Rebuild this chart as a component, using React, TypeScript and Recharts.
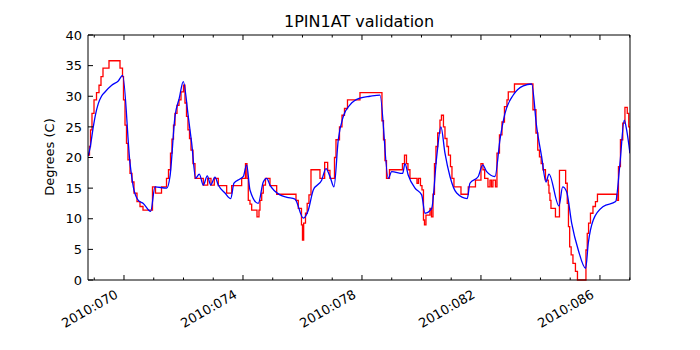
import React from "react";
import { LineChart, Line, XAxis, YAxis } from "recharts";

// day-of-year (2010) for each sample, and the temperature in degrees C
const telemTime = [
	68.79, 68.84, 68.874, 68.924, 68.992, 69.076, 69.16, 69.227, 69.294, 69.496,
	69.866, 69.95, 69.983, 70.034, 70.084, 70.134, 70.202, 70.269, 70.336, 70.437,
	70.538, 70.639, 70.958, 71.059, 71.261, 71.429, 71.496, 71.563, 71.613, 71.664,
	71.714, 71.782, 71.849, 71.916, 72.0, 72.05, 72.101, 72.151, 72.202, 72.252,
	72.319, 72.387, 72.666, 72.813, 72.924, 73.035, 73.17, 73.452, 73.62, 73.956,
	74.084, 74.134, 74.178, 74.235, 74.292, 74.471, 74.538, 74.571, 74.629, 74.682,
	74.756, 74.908, 75.133, 75.782, 75.859, 75.966, 76.0, 76.04, 76.101, 76.158,
	76.218, 76.286, 76.588, 76.746, 76.847, 76.924, 77.076, 77.126, 77.244, 77.328,
	77.412, 77.513, 77.933, 78.672, 78.723, 78.773, 78.824, 78.924, 79.361, 79.429,
	79.496, 79.546, 79.613, 79.849, 79.899, 79.966, 80.017, 80.067, 80.101, 80.151,
	80.286, 80.336, 80.387, 80.437, 80.487, 80.545, 80.622, 80.672, 80.739, 80.79,
	80.857, 80.908, 80.975, 81.025, 81.092, 81.328, 81.573, 81.815, 82.0, 82.067,
	82.124, 82.235, 82.303, 82.353, 82.403, 82.487, 82.538, 82.622, 82.706, 82.79,
	82.874, 82.918, 83.126, 83.748, 83.849, 83.909, 83.966, 84.024, 84.084, 84.168,
	84.262, 84.286, 84.319, 84.353, 84.504, 84.639, 84.847, 84.901, 84.941, 84.982,
	85.032, 85.092, 85.176, 85.244, 85.529, 85.573, 85.617, 85.681, 85.765, 85.849,
	85.916, 86.571, 86.622, 86.689, 86.766, 86.84, 86.918, 86.968, 87.008,
];
const telemTemp = [
	20.4, 21.8, 24.5, 27.2, 29.4, 30.6, 31.8, 33.2, 34.6, 35.8,
	34.6, 33.2, 29.4, 25.3, 22.3, 19.6, 17.4, 16.0, 14.2, 12.8,
	12.0, 11.4, 15.2, 14.2, 15.2, 16.6, 18.0, 20.7, 23.0, 25.3,
	27.2, 28.5, 29.4, 30.7, 31.8, 28.9, 26.7, 24.5, 23.1, 21.2,
	19.0, 16.6, 15.5, 16.6, 15.5, 16.6, 15.4, 14.2, 15.4, 16.6,
	19.0, 16.6, 13.0, 12.4, 11.4, 10.3, 11.4, 13.0, 14.2, 15.5,
	16.6, 15.4, 14.0, 13.0, 11.7, 9.0, 6.5, 9.3, 10.9, 12.5,
	13.9, 18.0, 16.6, 19.2, 17.9, 16.6, 20.0, 22.9, 25.0, 26.9,
	28.0, 29.4, 30.6, 26.0, 22.9, 19.5, 16.6, 18.0, 19.0, 20.4,
	19.0, 18.0, 16.6, 15.8, 16.6, 15.4, 14.7, 9.8, 9.0, 10.6,
	11.7, 10.3, 14.0, 19.0, 21.8, 24.0, 26.1, 26.9, 25.0, 23.1,
	21.8, 20.4, 18.5, 16.6, 15.2, 14.0, 15.2, 16.3, 19.0, 18.0,
	16.6, 15.2, 16.3, 15.2, 16.3, 15.2, 20.7, 23.7, 25.8, 28.3,
	29.4, 30.7, 32.0, 27.8, 24.0, 21.2, 20.1, 19.0, 18.0, 16.3,
	15.5, 14.2, 13.0, 11.7, 10.3, 17.9, 15.8, 12.5, 8.7, 5.4,
	4.1, 2.7, 1.4, 0.0, 4.9, 7.6, 9.3, 10.9, 12.0, 12.8,
	14.0, 13.0, 18.5, 22.9, 25.6, 28.2, 27.2, 25.0, 20.7,
];

const modelTime = [
	68.79, 68.857, 68.968, 69.042, 69.136, 69.244, 69.361, 69.587, 69.808, 69.956,
	70.202, 70.313, 70.481, 70.649, 70.897, 71.042, 71.435, 71.546, 71.714, 71.859,
	71.993, 72.161, 72.276, 72.41, 72.531, 72.666, 72.8, 72.914, 73.059, 73.17,
	73.395, 73.587, 73.697, 73.899, 74.01, 74.124, 74.235, 74.514, 74.682, 74.797,
	74.908, 75.244, 75.479, 75.748, 76.027, 76.195, 76.363, 76.645, 76.79, 76.924,
	77.059, 77.203, 77.371, 77.597, 77.933, 78.269, 78.605, 78.884, 78.998, 79.368,
	79.445, 79.556, 79.782, 80.007, 80.118, 80.343, 80.511, 80.655, 80.79, 80.958,
	81.183, 81.539, 81.63, 81.909, 82.057, 82.192, 82.471, 82.639, 82.807, 83.086,
	83.422, 83.704, 83.872, 84.04, 84.185, 84.286, 84.622, 84.746, 84.88, 85.049,
	85.271, 85.519, 85.607, 85.775, 86.111, 86.528, 86.672, 86.817, 86.897, 87.008,
];
const modelTemp = [
	20.2, 21.5, 25.0, 27.0, 28.8, 30.0, 30.7, 31.8, 32.5, 33.4,
	19.1, 15.2, 13.0, 12.5, 11.2, 15.2, 15.0, 16.9, 26.7, 29.7,
	32.4, 26.7, 22.3, 16.6, 17.3, 15.5, 17.0, 15.5, 16.8, 15.5,
	14.2, 13.3, 15.8, 16.5, 16.9, 18.8, 14.7, 12.5, 16.0, 16.6,
	15.5, 13.9, 13.5, 13.2, 10.1, 11.4, 14.7, 16.3, 18.2, 16.9,
	15.2, 22.9, 26.7, 28.6, 29.7, 30.0, 30.2, 16.6, 17.7, 17.4,
	19.0, 17.1, 15.0, 13.9, 10.9, 11.7, 20.1, 25.0, 20.7, 16.9,
	14.2, 13.3, 15.8, 16.9, 18.8, 17.7, 16.9, 22.9, 27.2, 30.2,
	31.7, 32.0, 25.0, 20.1, 16.0, 17.3, 12.1, 15.2, 14.4, 9.3,
	4.9, 1.9, 6.0, 9.8, 12.0, 12.8, 19.0, 26.1, 24.5, 20.7,
];

const yTicks = [0, 5, 10, 15, 20, 25, 30, 35, 40];
const dayTicks = [69, 70, 71, 72, 73, 74, 75, 76, 77, 78, 79, 80, 81, 82, 83, 84, 85, 86, 87];
const labelledDays = [70, 74, 78, 82, 86];

const FONT = "'DejaVu Sans', sans-serif";

const telemData = telemTime.map((t, i) => ({ t, v: telemTemp[i] }));
const modelData = modelTime.map((t, i) => ({ t, v: modelTemp[i] }));

const dayLabel = (d: number) => `2010:${String(d).padStart(3, "0")}`;

const BottomTick = ({ x, y, payload }: any) => {
	const major = labelledDays.includes(payload.value);
	return (
		<g>
			<line x1={x} y1={y} x2={x} y2={y - (major ? 5 : 2.5)} stroke="#000" strokeWidth={1} />
			{major && (
				<text
					x={x - 5}
					y={y + 17}
					transform={`rotate(-30 ${x - 5} ${y + 17})`}
					textAnchor="end"
					fontSize={13}
					fontFamily={FONT}
					fill="#000"
				>
					{dayLabel(payload.value)}
				</text>
			)}
		</g>
	);
};

const TopTick = ({ x, y, payload }: any) => {
	const major = labelledDays.includes(payload.value);
	return <line x1={x} y1={y} x2={x} y2={y + (major ? 5 : 2.5)} stroke="#000" strokeWidth={1} />;
};

const LeftTick = ({ x, y, payload }: any) => (
	<g>
		<line x1={x} y1={y} x2={x + 5} y2={y} stroke="#000" strokeWidth={1} />
		<text x={x - 6} y={y} dy="0.36em" textAnchor="end" fontSize={13} fontFamily={FONT} fill="#000">
			{payload.value}
		</text>
	</g>
);

const RightTick = ({ x, y }: any) => (
	<line x1={x} y1={y} x2={x - 5} y2={y} stroke="#000" strokeWidth={1} />
);

export default function App() {
	return (
		<div style={{ position: "relative", width: 684, height: 342, fontFamily: FONT }}>
			<div
				style={{
					position: "absolute",
					left: 80,
					width: 542,
					top: 4,
					textAlign: "center",
					fontSize: 16,
					color: "#000",
				}}
			>
				1PIN1AT validation
			</div>
			<div
				style={{
					position: "absolute",
					left: 42 - 60,
					top: 149 - 8,
					width: 120,
					textAlign: "center",
					fontSize: 13,
					lineHeight: "16px",
					transform: "rotate(-90deg)",
					color: "#000",
				}}
			>
				Degrees (C)
			</div>
			<LineChart width={684} height={342} margin={{ top: 26, right: 60, bottom: 0, left: 40 }}>
				<XAxis
					xAxisId="bottom"
					type="number"
					dataKey="t"
					domain={[68.79, 87.01]}
					allowDataOverflow
					ticks={dayTicks}
					interval={0}
					height={70}
					tickSize={0}
					tickMargin={0}
					tickLine={false}
					tick={<BottomTick />}
					axisLine={{ stroke: "#000", strokeWidth: 1 }}
				/>
				<XAxis
					xAxisId="top"
					orientation="top"
					type="number"
					dataKey="t"
					domain={[68.79, 87.01]}
					allowDataOverflow
					ticks={dayTicks}
					interval={0}
					height={1}
					tickSize={0}
					tickMargin={0}
					tickLine={false}
					tick={<TopTick />}
					axisLine={{ stroke: "#000", strokeWidth: 1 }}
				/>
				<YAxis
					yAxisId="left"
					type="number"
					domain={[0, 40]}
					ticks={yTicks}
					interval={0}
					width={40}
					tickSize={0}
					tickMargin={0}
					tickLine={false}
					tick={<LeftTick />}
					axisLine={{ stroke: "#000", strokeWidth: 1 }}
				/>
				<YAxis
					yAxisId="right"
					orientation="right"
					type="number"
					domain={[0, 40]}
					ticks={yTicks}
					interval={0}
					width={2}
					tickSize={0}
					tickMargin={0}
					tickLine={false}
					tick={<RightTick />}
					axisLine={{ stroke: "#000", strokeWidth: 1 }}
				/>
				<Line
					data={telemData}
					xAxisId="bottom"
					yAxisId="left"
					dataKey="v"
					type="stepAfter"
					stroke="#ff0000"
					strokeWidth={1.3}
					dot={false}
					isAnimationActive={false}
				/>
				<Line
					data={modelData}
					xAxisId="bottom"
					yAxisId="left"
					dataKey="v"
					type="monotone"
					stroke="#0000ff"
					strokeWidth={1.3}
					dot={false}
					isAnimationActive={false}
				/>
			</LineChart>
		</div>
	);
}
